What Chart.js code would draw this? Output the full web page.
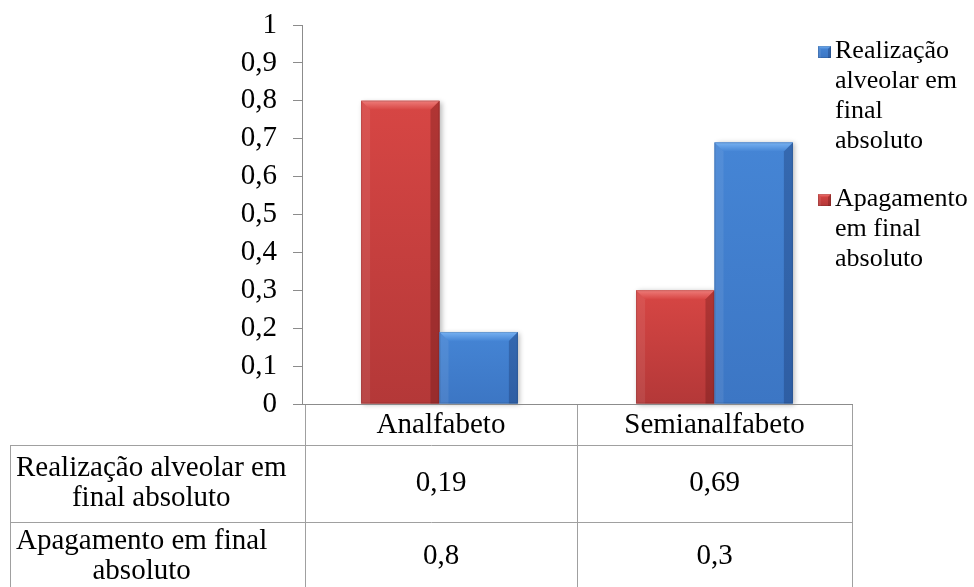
<!DOCTYPE html>
<html>
<head>
<meta charset="utf-8">
<script src="https://cdn.jsdelivr.net/npm/chart.js@4/dist/chart.umd.min.js"></script>
<style>
  html, body { margin: 0; padding: 0; background: #ffffff; }
  #wrap { width: 974px; height: 587px; }
</style>
</head>
<body>
<div id="wrap"><canvas id="c" width="974" height="587"></canvas></div>
<script>
// Chart values
const categories = ['Analfabeto', 'Semianalfabeto'];
const realizacao = [0.19, 0.69];
const apagamento = [0.8, 0.3];
const seriesNames = ['Realização alveolar em final absoluto', 'Apagamento em final absoluto'];
const yTickLabels = ['0', '0,1', '0,2', '0,3', '0,4', '0,5', '0,6', '0,7', '0,8', '0,9', '1'];
const tableValueLabels = [['0,19', '0,69'], ['0,8', '0,3']];

const FONT = '"Liberation Serif", "Times New Roman", serif';
const AXIS_GREY = '#8c8c8c';
const TABLE_GREY = '#a0a0a0';

// colour ramps for the bevelled bars
const RED = { top: '#d74644', bottom: '#b43838', hi: '#ee7c79', dark: 'rgba(90,15,15,0.30)', light: 'rgba(255,255,255,0.08)' };
const BLUE = { top: '#4585d5', bottom: '#3c76c4', hi: '#78b2f2', dark: 'rgba(15,40,90,0.30)', light: 'rgba(255,255,255,0.08)' };

function wrapLines(ctx, text, maxW) {
  const words = text.split(' ');
  const lines = [];
  let cur = '';
  for (const w of words) {
    const t = cur ? cur + ' ' + w : w;
    if (cur && ctx.measureText(t).width > maxW) { lines.push(cur); cur = w; }
    else cur = t;
  }
  if (cur) lines.push(cur);
  return lines;
}

function bevelRect(ctx, L, T, R, B, pal, b) {
  ctx.save();
  const g = ctx.createLinearGradient(0, T, 0, B);
  g.addColorStop(0, pal.top);
  g.addColorStop(1, pal.bottom);
  ctx.fillStyle = g;
  ctx.fillRect(L, T, R - L, B - T);
  b = Math.min(b, (R - L) / 2, (B - T) / 2);
  // top bevel
  const gt = ctx.createLinearGradient(0, T, 0, T + b);
  gt.addColorStop(0, pal.hi);
  gt.addColorStop(1, pal.top);
  ctx.fillStyle = gt;
  ctx.beginPath();
  ctx.moveTo(L, T); ctx.lineTo(R, T); ctx.lineTo(R - b, T + b); ctx.lineTo(L + b, T + b); ctx.closePath();
  ctx.fill();
  // right bevel (shaded)
  ctx.fillStyle = pal.dark;
  ctx.beginPath();
  ctx.moveTo(R, T); ctx.lineTo(R, B); ctx.lineTo(R - b, B); ctx.lineTo(R - b, T + b); ctx.closePath();
  ctx.fill();
  // left bevel (slight light)
  ctx.fillStyle = pal.light;
  ctx.beginPath();
  ctx.moveTo(L, T); ctx.lineTo(L + b, T + b); ctx.lineTo(L + b, B); ctx.lineTo(L, B); ctx.closePath();
  ctx.fill();
  // fine outline
  ctx.strokeStyle = 'rgba(0,0,0,0.12)';
  ctx.lineWidth = 1;
  ctx.strokeRect(L + 0.5, T + 0.5, R - L - 1, B - T - 1);
  ctx.restore();
}

// draws the bars with a bevel and soft shadow, using the bar geometry from Chart.js
const bevelBars = {
  id: 'bevelBars',
  afterDatasetsDraw(chart) {
    const ctx = chart.ctx;
    chart.data.datasets.forEach((ds, di) => {
      const meta = chart.getDatasetMeta(di);
      meta.data.forEach(bar => {
        const p = bar.getProps(['x', 'y', 'base', 'width'], true);
        const L = p.x - p.width / 2, R = p.x + p.width / 2;
        const T = Math.min(p.y, p.base), B = Math.max(p.y, p.base);
        ctx.save();
        ctx.shadowColor = 'rgba(0,0,0,0.28)';
        ctx.shadowBlur = 5;
        ctx.shadowOffsetX = 2;
        ctx.shadowOffsetY = 1;
        ctx.fillStyle = ds.palette.bottom;
        ctx.fillRect(L, T, R - L, B - T);
        ctx.restore();
        bevelRect(ctx, L, T, R, B, ds.palette, 9);
      });
    });
  }
};

// data table under the plot plus the legend on the right
const tableAndLegend = {
  id: 'tableAndLegend',
  afterDraw(chart) {
    const ctx = chart.ctx;
    const area = chart.chartArea;
    const xs = chart.scales.x;
    const H = chart.height;
    const colLeft = area.left + 3;
    const colMid = (xs.getPixelForValue(0) + xs.getPixelForValue(1)) / 2;
    const colRight = area.right;
    const headerTop = area.bottom;
    const row1Top = headerTop + 41;
    const row2Top = row1Top + 77;
    const labelLeft = 10;

    ctx.save();
    ctx.strokeStyle = TABLE_GREY;
    ctx.lineWidth = 1;
    ctx.beginPath();
    // vertical lines
    [colLeft, colMid, colRight].forEach(x => {
      const xx = Math.round(x) + 0.5;
      ctx.moveTo(xx, headerTop); ctx.lineTo(xx, H);
    });
    ctx.moveTo(labelLeft + 0.5, row1Top); ctx.lineTo(labelLeft + 0.5, H);
    // horizontal lines
    [row1Top, row2Top].forEach(y => {
      const yy = Math.round(y) + 0.5;
      ctx.moveTo(labelLeft, yy); ctx.lineTo(colRight + 1, yy);
    });
    ctx.stroke();
    // baseline of the plot, continued across the table header
    ctx.strokeStyle = AXIS_GREY;
    ctx.beginPath();
    ctx.moveTo(area.left - 9, Math.round(area.bottom) + 0.5);
    ctx.lineTo(colRight + 1, Math.round(area.bottom) + 0.5);
    ctx.stroke();

    ctx.fillStyle = '#000';
    ctx.font = '29px ' + FONT;
    ctx.textBaseline = 'middle';
    ctx.textAlign = 'center';
    const centers = [(colLeft + colMid) / 2, (colMid + colRight) / 2];
    categories.forEach((c, i) => ctx.fillText(c, centers[i], headerTop + 21));

    // text centre of each data row (the last row runs past the bottom edge)
    const rowMids = [row1Top + 38.5, row2Top + 34];
    seriesNames.forEach((name, r) => {
      const lines = wrapLines(ctx, name, colLeft - labelLeft - 6);
      const maxW = Math.max(...lines.map(l => ctx.measureText(l).width));
      const cx = labelLeft + 6 + maxW / 2;
      const lh = 30;
      const midY = rowMids[r];
      lines.forEach((l, k) => {
        ctx.fillText(l, cx, midY + (k - (lines.length - 1) / 2) * lh);
      });
      tableValueLabels[r].forEach((v, i) => ctx.fillText(v, centers[i], midY));
    });

    // legend
    ctx.font = '26px ' + FONT;
    ctx.textAlign = 'left';
    ctx.textBaseline = 'alphabetic';
    const legendItems = [
      { text: seriesNames[0], pal: BLUE, y: 58 },
      { text: seriesNames[1], pal: RED, y: 206 }
    ];
    legendItems.forEach(it => {
      const lines = wrapLines(ctx, it.text, 137);
      bevelRect(ctx, 818, it.y - 12, 831, it.y, it.pal, 3);
      ctx.fillStyle = '#000';
      lines.forEach((l, k) => ctx.fillText(l, 835, it.y + k * 30));
    });
    ctx.restore();
  }
};

new Chart(document.getElementById('c'), {
  type: 'bar',
  data: {
    labels: categories,
    datasets: [
      { label: seriesNames[1], data: apagamento, backgroundColor: 'rgba(0,0,0,0)', palette: RED },
      { label: seriesNames[0], data: realizacao, backgroundColor: 'rgba(0,0,0,0)', palette: BLUE }
    ]
  },
  options: {
    responsive: false,
    animation: false,
    devicePixelRatio: 1,
    layout: { padding: { top: 25, right: 122, bottom: 183, left: 0 } },
    datasets: { bar: { categoryPercentage: 0.57, barPercentage: 1.0 } },
    plugins: { legend: { display: false }, tooltip: { enabled: false } },
    scales: {
      x: { display: false },
      y: {
        min: 0, max: 1,
        ticks: {
          stepSize: 0.1,
          color: '#000',
          font: { family: FONT, size: 29 },
          padding: 16,
          callback: (v, i) => yTickLabels[i]
        },
        grid: { drawOnChartArea: false, drawTicks: true, tickLength: 9, color: AXIS_GREY },
        border: { display: true, color: AXIS_GREY, width: 1 },
        afterFit: s => { s.width = 302; s.paddingTop = 0; s.paddingBottom = 0; }
      }
    }
  },
  plugins: [bevelBars, tableAndLegend]
});
</script>
</body>
</html>
